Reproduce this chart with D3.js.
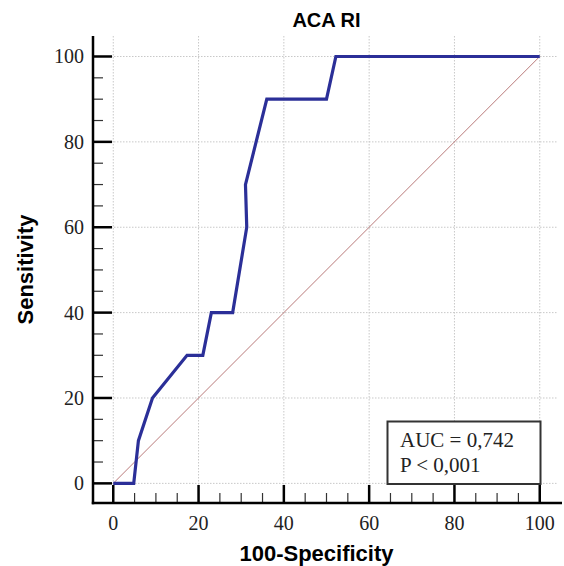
<!DOCTYPE html>
<meta charset="utf-8">

<style type="text/css">
  body { margin: 0; background: #fff; }
  .grid line { stroke: #c8c8c8; stroke-width: 1px; stroke-dasharray: 1.5,1.5; }
  .tick-label { font-family: "Liberation Serif", "Times New Roman", serif; font-size: 20px; fill: #222; }
  .axis-title { font-family: "Liberation Sans", Arial, sans-serif; font-size: 22px; font-weight: bold; fill: #000; }
</style>

<body>
</body>

<script src="https://d3js.org/d3.v7.min.js"></script>

<script>
// ROC curve points (100-specificity, sensitivity)
var fpr = [0, 4.8, 5.9, 9.2, 17.3, 21, 23, 28, 31.3, 31, 36, 50, 52.2, 100];
var tpr = [0, 0, 10, 20, 30, 30, 40, 40, 60, 70, 90, 90, 100, 100];

var majorTicks = [0, 20, 40, 60, 80, 100];
var minorTicks = [5, 10, 15, 25, 30, 35, 45, 50, 55, 65, 70, 75, 85, 90, 95];

var titleText = "ACA RI";
var xTitle = "100-Specificity";
var yTitle = "Sensitivity";
var legendLines = ["AUC = 0,742", "P < 0,001"];

// plot frame inside the 564x566 window
var margin = {top: 36, right: 4, bottom: 63, left: 93};
var width = 564, height = 566;
var chartWidth = width - margin.left - margin.right,
    chartHeight = height - margin.top - margin.bottom;

var svg = d3.select("body").append("svg")
    .attr("width", width)
    .attr("height", height);

var g = svg.append("g")
    .attr("transform", "translate(" + margin.left + "," + margin.top + ")");

var x = d3.scaleLinear().domain([-4.75, 104.75]).range([0, chartWidth]);
var y = d3.scaleLinear().domain([-4.6, 104.8]).range([chartHeight, 0]);

// dotted grid
var grid = g.append("g").attr("class", "grid");
grid.selectAll(".vg").data(majorTicks).enter().append("line")
    .attr("x1", function(d) { return x(d); })
    .attr("x2", function(d) { return x(d); })
    .attr("y1", 0).attr("y2", chartHeight);
grid.selectAll(".hg").data(majorTicks).enter().append("line")
    .attr("y1", function(d) { return y(d); })
    .attr("y2", function(d) { return y(d); })
    .attr("x1", 0).attr("x2", chartWidth - 2);

// reference diagonal
g.append("line")
    .attr("x1", x(0)).attr("y1", y(0))
    .attr("x2", x(100)).attr("y2", y(100))
    .attr("stroke", "#b97a7a")
    .attr("stroke-width", 1);

// ROC curve
var pts = fpr.map(function(d, i) { return [d, tpr[i]]; });
var line = d3.line()
    .x(function(d) { return x(d[0]); })
    .y(function(d) { return y(d[1]); });

g.append("path")
    .datum(pts)
    .attr("d", line)
    .attr("fill", "none")
    .attr("stroke", "#2b2f98")
    .attr("stroke-width", 3.2)
    .attr("stroke-linejoin", "miter");

// axes drawn by hand: ticks point inward
var axes = g.append("g");

// x axis minor/major ticks
axes.selectAll(".xmin").data(minorTicks).enter().append("line")
    .attr("x1", function(d) { return x(d); }).attr("x2", function(d) { return x(d); })
    .attr("y1", chartHeight).attr("y2", chartHeight - 10)
    .attr("stroke", "#333").attr("stroke-width", 1.2);
axes.selectAll(".xmaj").data(majorTicks).enter().append("line")
    .attr("x1", function(d) { return x(d); }).attr("x2", function(d) { return x(d); })
    .attr("y1", chartHeight).attr("y2", chartHeight - 18)
    .attr("stroke", "#000").attr("stroke-width", 2.5);

// y axis minor/major ticks
axes.selectAll(".ymin").data(minorTicks).enter().append("line")
    .attr("y1", function(d) { return y(d); }).attr("y2", function(d) { return y(d); })
    .attr("x1", 0).attr("x2", 10)
    .attr("stroke", "#333").attr("stroke-width", 1.2);
axes.selectAll(".ymaj").data(majorTicks).enter().append("line")
    .attr("y1", function(d) { return y(d); }).attr("y2", function(d) { return y(d); })
    .attr("x1", 0).attr("x2", 19)
    .attr("stroke", "#000").attr("stroke-width", 2.5);

// axis lines
axes.append("line")
    .attr("x1", 0).attr("x2", 0).attr("y1", 0).attr("y2", chartHeight + 1.2)
    .attr("stroke", "#000").attr("stroke-width", 2.5);
axes.append("line")
    .attr("x1", -1.2).attr("x2", chartWidth + 2).attr("y1", chartHeight).attr("y2", chartHeight)
    .attr("stroke", "#000").attr("stroke-width", 2.5);

// tick labels
axes.selectAll(".xl").data(majorTicks).enter().append("text")
    .attr("class", "tick-label")
    .attr("x", function(d) { return x(d); })
    .attr("y", chartHeight + 27)
    .attr("text-anchor", "middle")
    .text(function(d) { return d; });
axes.selectAll(".yl").data(majorTicks).enter().append("text")
    .attr("class", "tick-label")
    .attr("x", -9)
    .attr("y", function(d) { return y(d) + 7; })
    .attr("text-anchor", "end")
    .text(function(d) { return d; });

// titles
svg.append("text")
    .attr("class", "axis-title")
    .style("font-size", "20px")
    .attr("x", margin.left + chartWidth / 2)
    .attr("y", 27)
    .attr("text-anchor", "middle")
    .text(titleText);

svg.append("text")
    .attr("class", "axis-title")
    .attr("x", margin.left + chartWidth / 2 - 10)
    .attr("y", 561)
    .attr("text-anchor", "middle")
    .text(xTitle);

svg.append("text")
    .attr("class", "axis-title")
    .attr("transform", "translate(33," + (margin.top + chartHeight / 2) + ") rotate(-90)")
    .attr("text-anchor", "middle")
    .text(yTitle);

// AUC box
var legend = svg.append("g");
legend.append("rect")
    .attr("x", 387.5).attr("y", 421.5)
    .attr("width", 153).attr("height", 62.5)
    .attr("fill", "#fff")
    .attr("stroke", "#333")
    .attr("stroke-width", 2);
legend.selectAll("text").data(legendLines).enter().append("text")
    .attr("class", "tick-label")
    .style("font-size", "21px")
    .attr("x", 400)
    .attr("y", function(d, i) { return 447 + i * 24.5; })
    .text(function(d) { return d; });
</script>
